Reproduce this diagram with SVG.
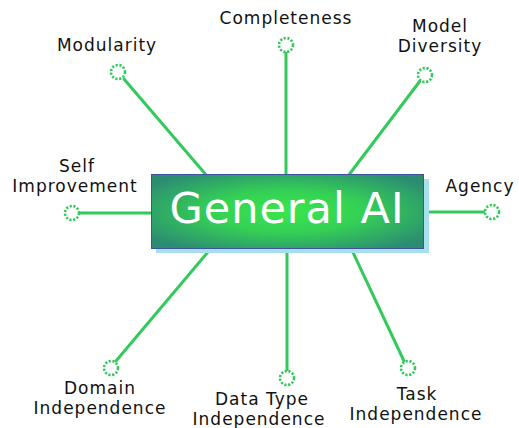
<svg xmlns="http://www.w3.org/2000/svg" width="519" height="428" viewBox="0 0 519 428">
<style>
.lbl{font-family:"DejaVu Sans","Liberation Sans",sans-serif;font-size:17px;fill:#111;text-anchor:middle;letter-spacing:1px}
.ln{stroke:#34c95c;stroke-width:3;fill:none;stroke-linecap:round}
.dot{stroke:#34c95c;stroke-width:2.6;fill:#fff;stroke-dasharray:2.2 1.6}
.title{font-family:"DejaVu Sans","Liberation Sans",sans-serif;font-size:43px;fill:#fff;text-anchor:middle;letter-spacing:1px}
</style>
<defs>
<radialGradient id="g" cx="50%" cy="50%" r="62%">
<stop offset="0" stop-color="#3be64c"/>
<stop offset="0.45" stop-color="#34d055"/>
<stop offset="1" stop-color="#2c8c72"/>
</radialGradient>
</defs>
<rect width="519" height="428" fill="#fff"/>
<g id="connectors">
<line class="ln" x1="124" y1="79" x2="207" y2="176"/>
<line class="ln" x1="286" y1="53" x2="286" y2="176"/>
<line class="ln" x1="420" y1="81" x2="348" y2="176"/>
<line class="ln" x1="80" y1="213" x2="153" y2="213"/>
<line class="ln" x1="423" y1="212" x2="484" y2="212"/>
<line class="ln" x1="116" y1="361" x2="213" y2="246"/>
<line class="ln" x1="287" y1="246" x2="287" y2="370"/>
<line class="ln" x1="350" y1="246" x2="404" y2="361"/>
</g>
<g id="center">
<rect x="156" y="179" width="273" height="74" fill="#a6e0ec"/>
<rect x="151.5" y="174.5" width="272" height="74" fill="url(#g)" stroke="#3b55a0" stroke-width="1"/>
<text class="title" x="287" y="223">General AI</text>
</g>
<g id="modularity">
<circle class="dot" cx="118" cy="72" r="7"/>
<text class="lbl" x="107" y="51">Modularity</text>
</g>
<g id="completeness">
<circle class="dot" cx="286" cy="45" r="7"/>
<text class="lbl" x="286" y="24">Completeness</text>
</g>
<g id="model-diversity">
<circle class="dot" cx="425" cy="75" r="7"/>
<text class="lbl" x="440" y="32">Model</text>
<text class="lbl" x="440" y="52">Diversity</text>
</g>
<g id="self-improvement">
<circle class="dot" cx="72" cy="213" r="7"/>
<text class="lbl" x="77" y="172">Self</text>
<text class="lbl" x="75" y="192">Improvement</text>
</g>
<g id="agency">
<circle class="dot" cx="492" cy="212" r="7"/>
<text class="lbl" x="480" y="192">Agency</text>
</g>
<g id="domain-independence">
<circle class="dot" cx="111" cy="368" r="7"/>
<text class="lbl" x="100" y="394">Domain</text>
<text class="lbl" x="100" y="414">Independence</text>
</g>
<g id="data-type-independence">
<circle class="dot" cx="287" cy="378" r="7"/>
<text class="lbl" x="262" y="405">Data Type</text>
<text class="lbl" x="259" y="425">Independence</text>
</g>
<g id="task-independence">
<circle class="dot" cx="408" cy="368" r="7"/>
<text class="lbl" x="417" y="400">Task</text>
<text class="lbl" x="416" y="420">Independence</text>
</g>
</svg>
